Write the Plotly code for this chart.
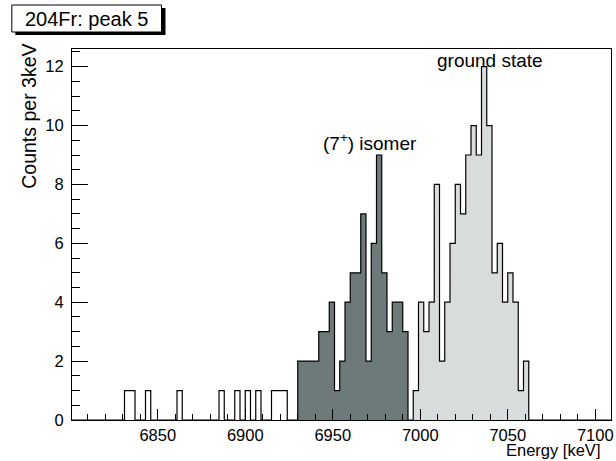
import plotly.graph_objects as go

# ---------------- data ----------------
BIN_WIDTH = 3  # keV
# single counts outside the two peaks (bin left edges, keV)
other_bin_starts = [6831, 6834, 6843, 6861, 6885, 6894, 6900, 6906, 6915, 6918, 6921]
other_counts = [1, 1, 1, 1, 1, 1, 1, 1, 1, 1, 1]
# (7+) isomer peak
isomer_start = 6930
isomer_counts = [2, 2, 2, 2, 3, 3, 4, 1, 2, 4, 5, 5, 7, 2, 6, 9, 5, 3, 4, 4, 3]
# ground state peak
ground_start = 6996
ground_counts = [1, 4, 3, 4, 8, 2, 4, 6, 8, 7, 9, 10, 9, 12, 10, 5, 6, 4, 5, 4, 1, 2]

x_range = [6801, 7109]
y_range = [0, 12.6]
x_tickvals = [6850, 6900, 6950, 7000, 7050, 7100]
y_tickvals = [0, 2, 4, 6, 8, 10, 12]

title_text = "204Fr: peak 5"
x_title = "Energy [keV]"
y_title = "Counts per 3keV"
isomer_label = "(7<sup>+</sup>) isomer"
ground_label = "ground state"
isomer_label_pos = (6971, 9.45)
ground_label_pos = (7040, 12.2)

FONT = "Liberation Sans, Arial, sans-serif"
DARK = "#6e7a7a"
LIGHT = "#d9dcdd"


def step_path(start, counts, w):
    xs, ys = [start], [0]
    for i, v in enumerate(counts):
        left = start + i * w
        xs += [left, left + w]
        ys += [v, v]
    xs.append(start + len(counts) * w)
    ys.append(0)
    return xs, ys


# full histogram over the whole axis range
hist = {}
for s, c in zip(other_bin_starts, other_counts):
    hist[s] = hist.get(s, 0) + c
for i, c in enumerate(isomer_counts):
    s = isomer_start + i * BIN_WIDTH
    hist[s] = hist.get(s, 0) + c
for i, c in enumerate(ground_counts):
    s = ground_start + i * BIN_WIDTH
    hist[s] = hist.get(s, 0) + c
nbins = (x_range[1] - x_range[0]) // BIN_WIDTH + 1
all_counts = [hist.get(x_range[0] + k * BIN_WIDTH, 0) for k in range(nbins)]

fig = go.Figure()

ix, iy = step_path(isomer_start, isomer_counts, BIN_WIDTH)
fig.add_trace(go.Scatter(x=ix, y=iy, mode="lines", fill="tozeroy",
                         fillcolor=DARK, line=dict(width=0, color=DARK),
                         hoverinfo="skip", showlegend=False))
gx, gy = step_path(ground_start, ground_counts, BIN_WIDTH)
fig.add_trace(go.Scatter(x=gx, y=gy, mode="lines", fill="tozeroy",
                         fillcolor=LIGHT, line=dict(width=0, color=LIGHT),
                         hoverinfo="skip", showlegend=False))
ax, ay = step_path(x_range[0], all_counts, BIN_WIDTH)
fig.add_trace(go.Scatter(x=ax, y=ay, mode="lines",
                         line=dict(width=1.2, color="black"),
                         hoverinfo="skip", showlegend=False))

W, H = 616, 461
ML, MR, MT, MB = 72, 2, 49, 41
PW = W - ML - MR
PH = H - MT - MB


def px2paper(px, py):
    return (px - ML) / PW, (H - MB - py) / PH


shapes = []
# title box shadow and box
sx0, sy0 = px2paper(15, 8)
sx1, sy1 = px2paper(166, 35)
shapes.append(dict(type="rect", xref="paper", yref="paper", x0=sx0, y0=sy1, x1=sx1, y1=sy0,
                   fillcolor="black", line=dict(width=0), layer="above"))
bx0, by0 = px2paper(11.5, 5)
bx1, by1 = px2paper(162, 32)
shapes.append(dict(type="rect", xref="paper", yref="paper", x0=bx0, y0=by1, x1=bx1, y1=by0,
                   fillcolor="white", line=dict(width=1, color="black"), layer="above"))

tcx, tcy = px2paper(86.5, 19)
xtx, xty = px2paper(605, 450)
ytx, yty = px2paper(28, 42)

annotations = [
    dict(text=title_text, xref="paper", yref="paper", x=tcx, y=tcy, showarrow=False,
         xanchor="center", yanchor="middle", font=dict(family=FONT, size=20, color="black")),
    dict(text=x_title, xref="paper", yref="paper", x=xtx, y=xty, showarrow=False,
         xanchor="right", yanchor="middle", font=dict(family=FONT, size=16.5, color="black")),
    dict(text=y_title, xref="paper", yref="paper", x=ytx, y=yty, showarrow=False,
         textangle=-90, xanchor="center", yanchor="top",
         font=dict(family=FONT, size=19.5, color="black")),
    dict(text=isomer_label, x=isomer_label_pos[0], y=isomer_label_pos[1], showarrow=False,
         xanchor="center", yanchor="middle", font=dict(family=FONT, size=19, color="black")),
    dict(text=ground_label, x=ground_label_pos[0], y=ground_label_pos[1], showarrow=False,
         xanchor="center", yanchor="middle", font=dict(family=FONT, size=19, color="black")),
]

fig.update_layout(
    width=W, height=H,
    margin=dict(l=ML, r=MR, t=MT, b=MB, pad=0),
    paper_bgcolor="white", plot_bgcolor="white",
    shapes=shapes, annotations=annotations,
    showlegend=False,
    xaxis=dict(range=x_range, tickvals=x_tickvals, ticks="inside", ticklen=11,
               tickcolor="black", tickwidth=1, showgrid=False, zeroline=False,
               showline=True, linecolor="black", linewidth=1, mirror=True,
               ticklabeloverflow="allow",
               tickfont=dict(family=FONT, size=16.5, color="black"),
               minor=dict(ticks="inside", ticklen=6, dtick=10, tick0=6800,
                          tickcolor="black", showgrid=False)),
    yaxis=dict(range=y_range, tickvals=y_tickvals, ticks="inside", ticklen=16,
               tickcolor="black", tickwidth=1, showgrid=False, zeroline=False,
               showline=True, linecolor="black", linewidth=1, mirror=True,
               ticklabelstandoff=4, ticklabeloverflow="allow",
               tickfont=dict(family=FONT, size=16.5, color="black"),
               minor=dict(ticks="inside", ticklen=8, dtick=0.5, tick0=0,
                          tickcolor="black", showgrid=False)),
)

fig.write_html("out.html")
